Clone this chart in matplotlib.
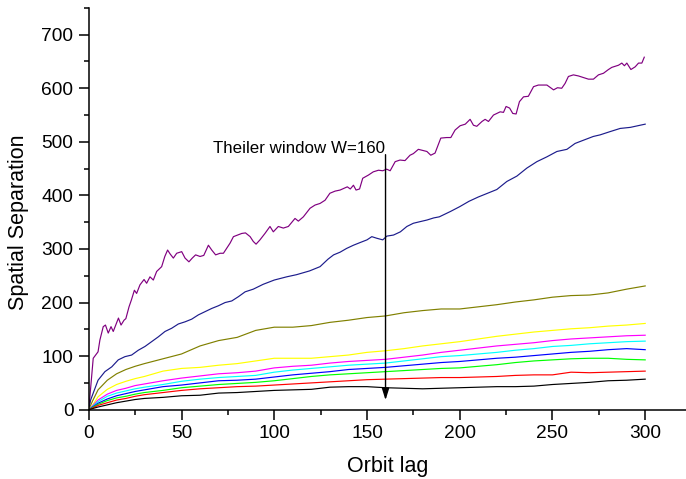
import matplotlib
matplotlib.use('Agg')
import matplotlib.pyplot as plt
from matplotlib.ticker import MultipleLocator

plt.rcParams['font.family'] = ['Liberation Sans', 'DejaVu Sans']

# shared lag grid for the smoother, lower curves
lag = [0, 2, 5, 10, 15, 20, 25, 30, 40, 50, 60, 70, 80, 90, 100, 110, 120,
       130, 140, 150, 160, 170, 180, 190, 200, 210, 220, 230, 240, 250, 260,
       270, 280, 290, 300]

olive = [0, 16, 37, 55, 67, 75, 81, 86, 95, 104, 119, 129, 135, 148, 154, 154,
         157, 163, 167, 172, 175, 181, 185, 188, 188, 192, 196, 201, 205, 210,
         213, 214, 218, 225, 231]
yellow = [0, 8, 24, 38, 47, 53, 58, 62, 72, 77, 79, 83, 86, 91, 96, 96, 96,
          99, 102, 107, 110, 114, 119, 123, 127, 132, 137, 141, 145, 148, 151,
          153, 156, 158, 161]
magenta = [0, 7, 18, 29, 36, 40, 45, 48, 54, 59, 63, 67, 69, 72, 78, 81, 83,
           87, 90, 92, 94, 98, 102, 107, 111, 115, 119, 122, 125, 129, 132,
           134, 136, 138, 139]
cyan = [0, 6, 15, 25, 31, 35, 39, 42, 47, 53, 57, 60, 62, 64, 70, 74, 77, 80,
        83, 85, 87, 91, 95, 99, 101, 104, 107, 111, 114, 118, 120, 123, 125,
        127, 128]
blue = [0, 5, 12, 20, 26, 30, 34, 37, 43, 46, 50, 54, 55, 57, 61, 65, 68, 71,
        75, 77, 79, 82, 85, 88, 90, 93, 96, 98, 101, 104, 107, 109, 112, 114,
        112]
green = [0, 4, 10, 17, 22, 25, 29, 32, 36, 41, 44, 47, 49, 51, 54, 58, 62, 65,
         67, 69, 71, 73, 75, 77, 78, 81, 84, 88, 91, 93, 95, 96, 96, 94, 93]
red = [0, 3, 8, 13, 18, 21, 25, 28, 32, 36, 39, 41, 43, 44, 46, 48, 50, 52,
       54, 56, 57, 58, 59, 60, 60, 61, 62, 64, 65, 65, 70, 69, 70, 71, 72]
black = [0, 2, 5, 9, 13, 16, 19, 21, 23, 26, 27, 31, 32, 34, 36, 37, 38, 42,
         43, 43, 41, 40, 39, 40, 41, 42, 43, 43, 44, 47, 49, 51, 54, 55, 57]

# the two noisy top curves
lag_purple = [0, 1, 2.4, 5, 6, 7.8, 9, 10.5, 12, 13.2, 16, 17.4, 19, 20, 21.7,
              23, 24.6, 25.8, 27.6, 29.8, 31.2, 33, 34.8, 36.6, 39.3, 41, 42.5,
              43.8, 45.6, 47.4, 50.1, 51.9, 54, 55.8, 57.6, 60, 62, 64.5, 66.3,
              68.4, 70.8, 72.6, 76.2, 78, 82.5, 84.5, 87, 88.7, 90.2, 92.3, 95,
              97.7, 99.5, 102.2, 104.9, 107.6, 111.2, 113, 115.7, 119.3, 122,
              124.7, 127.4, 130, 132.8, 135.5, 139.4, 141, 142.7, 144.1, 146,
              147.7, 150.8, 153.4, 156.2, 158.5, 160.6, 162.5, 165.2, 167.8,
              170.5, 173.2, 175, 177.7, 180, 182.3, 184.4, 186.7, 189.8, 193,
              195.2, 197.5, 200.2, 203, 205.6, 207.4, 209.2, 212, 213.7, 215.5,
              218.2, 221.8, 223.6, 225, 226.9, 228.6, 230.4, 232.2, 234.4, 237,
              239.8, 242.4, 244.8, 247, 250.6, 252.7, 255, 256.8, 258.6, 261.3,
              264, 266.7, 269.4, 272.1, 274.8, 277.5, 280.2, 282, 285.6, 287.4,
              288.8, 290.1, 292.3, 294.6, 296.4, 298.2, 299.5]
purple = [0, 40, 96, 108, 130, 155, 158, 143, 155, 146, 171, 158, 167, 170,
          192, 205, 223, 217, 233, 243, 236, 248, 242, 258, 267, 286, 298, 291,
          283, 292, 295, 283, 276, 283, 289, 286, 288, 307, 298, 289, 292, 292,
          311, 323, 329, 330, 323, 314, 309, 317, 329, 342, 332, 342, 339, 342,
          357, 352, 360, 376, 382, 385, 391, 404, 408, 410, 416, 412, 419, 410,
          412, 432, 438, 444, 447, 446, 449, 446, 463, 466, 465, 475, 478, 486,
          484, 482, 475, 479, 507, 508, 508, 522, 530, 533, 542, 531, 529, 538,
          542, 538, 550, 556, 555, 566, 563, 553, 552, 575, 584, 585, 603, 606,
          606, 606, 597, 601, 600, 609, 622, 625, 623, 620, 617, 617, 625, 628,
          635, 639, 643, 647, 642, 647, 635, 640, 647, 647, 658]

lag_navy = [0, 1, 2.4, 5, 8.7, 12.4, 15.9, 19.5, 23.1, 26.7, 30.3, 33.9, 37.5,
            41.1, 44.7, 48.3, 51.9, 55.5, 59.1, 62.7, 66.3, 69.9, 73.5, 77.1,
            80.7, 84.3, 88.7, 94, 100, 106.7, 112, 119, 124.7, 129, 132, 135.5,
            139, 142.7, 146.3, 150, 152.6, 155.3, 158.5, 160.7, 164.3, 168,
            171.5, 175, 178.6, 182.3, 186, 189, 195, 200, 205, 210, 215, 220,
            225.4, 230.8, 236.2, 241.6, 247, 252.4, 257.8, 262.2, 266.7, 272,
            275.7, 281, 286.5, 292, 297.3, 300]
navy = [0, 18, 31, 55, 71, 80, 93, 99, 102, 111, 118, 127, 136, 146, 152, 160,
        164, 169, 177, 183, 189, 194, 200, 203, 211, 220, 225, 234, 242, 248,
        252, 259, 267, 281, 289, 294, 301, 307, 312, 317, 323, 320, 317, 324,
        326, 332, 342, 348, 351, 354, 358, 360, 370, 379, 389, 397, 404, 411,
        426, 436, 451, 463, 472, 482, 486, 497, 503, 510, 513, 519, 525, 527,
        531, 533]

theiler_w = 160

fig = plt.figure(figsize=(6.86, 4.79), dpi=100)
ax = fig.add_axes([0.1294, 0.1447, 0.8706, 0.8388])

lw = 0.85
ax.plot(lag_purple, purple, color='#800080', lw=lw)
ax.plot(lag_navy, navy, color='#1c1c8c', lw=lw)
ax.plot(lag, olive, color='#808000', lw=lw)
ax.plot(lag, yellow, color='#ffff00', lw=lw)
ax.plot(lag, magenta, color='#ff00ff', lw=lw)
ax.plot(lag, cyan, color='#00ffff', lw=lw)
ax.plot(lag, blue, color='#0000ff', lw=lw)
ax.plot(lag, green, color='#00ff00', lw=lw)
ax.plot(lag, red, color='#ff0000', lw=lw)
ax.plot(lag, black, color='#000000', lw=lw)

# Theiler window marker
ax.annotate('', xy=(theiler_w, 18), xytext=(theiler_w, 476),
            arrowprops=dict(arrowstyle='-|>,head_length=0.7,head_width=0.22',
                            mutation_scale=10, color='black', lw=1.0,
                            shrinkA=0, shrinkB=0))
ax.text(theiler_w - 0.5, 487, 'Theiler window W=%d' % theiler_w, ha='right',
        va='center', fontsize=12.2)

ax.set_xlim(0, 322)
ax.set_ylim(0, 750)
ax.xaxis.set_major_locator(MultipleLocator(50))
ax.xaxis.set_minor_locator(MultipleLocator(25))
ax.yaxis.set_major_locator(MultipleLocator(100))
ax.yaxis.set_minor_locator(MultipleLocator(50))

for side in ('top', 'right'):
    ax.spines[side].set_visible(False)
for side in ('left', 'bottom'):
    ax.spines[side].set_linewidth(1.1)

ax.tick_params(which='major', direction='out', length=7, width=1.1,
               labelsize=13.8, pad=4)
ax.tick_params(which='minor', direction='out', length=3.5, width=1.1)

ax.set_xlabel('Orbit lag', fontsize=15.5)
ax.set_ylabel('Spatial Separation', fontsize=15.5)
ax.xaxis.set_label_coords(0.5, -0.115)
ax.yaxis.set_label_coords(-0.100, 0.467)

fig.savefig('out.png', dpi=100)
